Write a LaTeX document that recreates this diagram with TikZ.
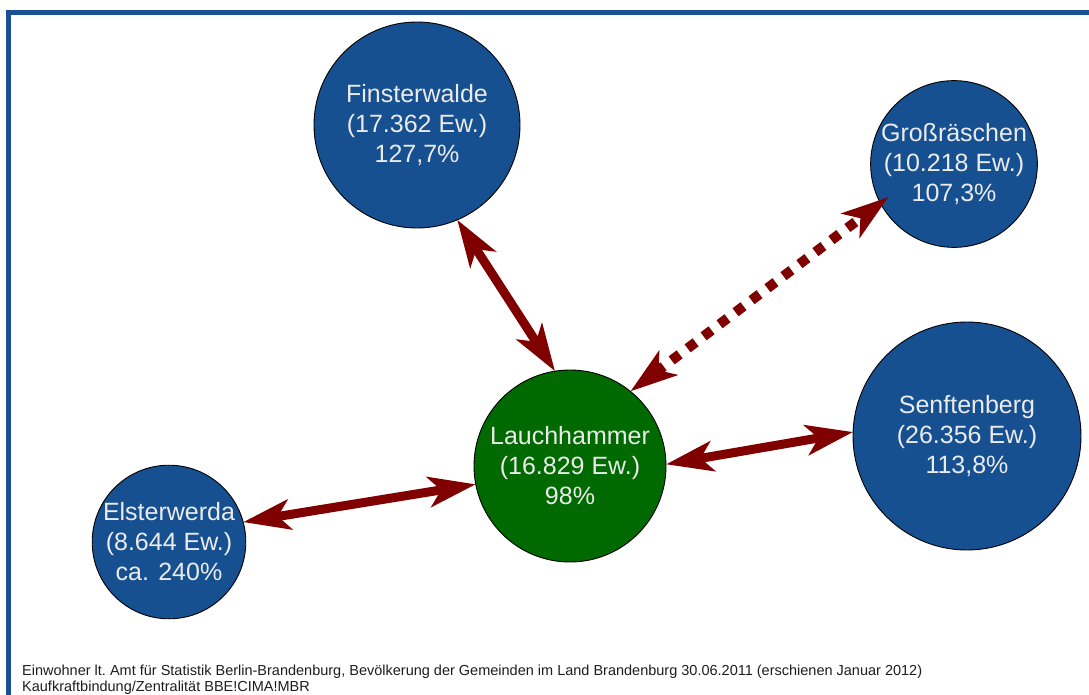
\documentclass[tikz,border=0pt]{standalone}
\usepackage{fontspec}
\setmainfont{Liberation Sans}
\usetikzlibrary{arrows.meta}
\definecolor{cityblue}{RGB}{22,80,145}
\definecolor{citygreen}{RGB}{0,106,0}
\definecolor{arrowred}{RGB}{128,0,0}
\definecolor{framecol}{RGB}{25,82,148}
\definecolor{txtcol}{RGB}{235,235,235}
\definecolor{foot}{RGB}{30,30,30}
\tikzset{
  city/.style={circle, draw=black, line width=0.9pt, inner sep=0pt, outer sep=0pt,
    text=txtcol, align=center,
    font=\fontsize{25}{30}\selectfont},
  bluecity/.style={city, fill=cityblue},
  greencity/.style={city, fill=citygreen},
  link/.style={draw=arrowred, line width=9pt, {Stealth[length=47pt,width=30pt,inset=12pt]}-{Stealth[length=47pt,width=30pt,inset=12pt]}},
  dotlink/.style={link, line width=10pt, dash pattern=on 10pt off 10pt},
  footnote/.style={anchor=base west, inner sep=0pt, text=foot, font=\fontsize{14.5}{16}\selectfont}
}
\begin{document}
\begin{tikzpicture}[x=1pt,y=-1pt]
\useasboundingbox (0,0) rectangle (1089,695);
\fill[white] (0,0) rectangle (1089,695);
% frame
\draw[framecol, line width=5pt] (8,695) -- (8,12.5) -- (1089,12.5);
% cities
\node[bluecity, minimum size=206pt] (fin) at (417,125) {Finsterwalde\\(17.362 Ew.)\\127,7\%};
\node[bluecity, minimum size=162pt] (gro) at (954,164) {Großräschen\\(10.218 Ew.)\\107,3\%};
\node[bluecity, minimum size=228pt] (sen) at (967,436) {Senftenberg\\(26.356 Ew.)\\113,8\%};
\node[greencity, minimum size=192pt] (lau) at (570,466) {Lauchhammer\\(16.829 Ew.)\\98\%};
\node[bluecity, minimum size=152pt] (els) at (169,542) {Elsterwerda\\(8.644 Ew.)\\ca. 240\%};
% connectors
\draw[link] (fin.-67) -- (lau.99);
\draw[dotlink, shorten >=-10pt] (lau.51) -- (gro.208);
\draw[link] (els.15) -- (lau.191);
\draw[link] (lau.1) -- (sen.178);
% footer
\node[footnote] (f1) at (22,675) {Einwohner lt.\ Amt für Statistik Berlin-Brandenburg, Bevölkerung der Gemeinden im Land Brandenburg 30.06.2011 (erschienen Januar 2012)};
\node[footnote] (f2) at (22,691) {Kaufkraftbindung/Zentralität BBE!CIMA!MBR};
\end{tikzpicture}
\end{document}
